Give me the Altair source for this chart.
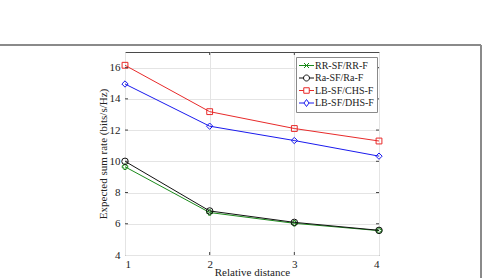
import altair as alt
import pandas as pd

# Relative distance on the x axis
distance = [1, 2, 3, 4]

# Expected sum rate (bits/s/Hz) for each scheme
series_names = ["RR-SF/RR-F", "Ra-SF/Ra-F", "LB-SF/CHS-F", "LB-SF/DHS-F"]
rr_sf = [9.65, 6.72, 6.03, 5.56]
ra_sf = [10.0, 6.82, 6.09, 5.58]
lb_chs = [16.15, 13.18, 12.1, 11.3]
lb_dhs = [14.95, 12.25, 11.33, 10.33]

colors = ["#1a8a1a", "#111111", "#e82a2a", "#1a1aee"]
markers = ["cross", "circle", "square", "diamond"]
marker_sizes = [30, 42, 34, 40]

x_ticks = [1, 2, 3, 4]
y_ticks = [4, 6, 8, 10, 12, 14, 16]

# Legend glyphs: a short line segment with the series marker on top
legend_glyphs = [
    "M-1.5,0H1.5M-0.5,-0.5L0.5,0.5M-0.5,0.5L0.5,-0.5",
    "M-1.5,0H-0.6M0.6,0H1.5M-0.6,0A0.6,0.6 0 1,0 0.6,0A0.6,0.6 0 1,0 -0.6,0",
    "M-1.5,0H-0.55M0.55,0H1.5M-0.55,-0.55H0.55V0.55H-0.55Z",
    "M-1.5,0H-0.5M0.5,0H1.5M-0.5,0L0,-0.7L0.5,0L0,0.7Z",
]

rows = []
for name, vals in zip(series_names, [rr_sf, ra_sf, lb_chs, lb_dhs]):
    for d, v in zip(distance, vals):
        rows.append({"distance": d, "rate": v, "series": name})
df = pd.DataFrame(rows)

FONT = "Liberation Serif"
W, H = 254, 203

x_scale = alt.Scale(domain=[1, 4], nice=False, zero=False)
y_scale = alt.Scale(domain=[4, 17], nice=False, zero=False)
x_axis = alt.Axis(values=x_ticks, format="d", title="Relative distance",
                  titleY=17, titleBaseline="middle")
y_axis = alt.Axis(values=y_ticks, title="Expected sum rate (bits/s/Hz)",
                  titleX=-22, titleBaseline="middle")

x_enc = alt.X("distance:Q", scale=x_scale, axis=x_axis)
y_enc = alt.Y("rate:Q", scale=y_scale, axis=y_axis)

base = alt.Chart(df)

# Legend carrier: no rows survive the filter, but the explicit scale domains
# keep all four entries in the legend.
legend_layer = (
    base.transform_filter("false")
    .mark_point(filled=False, strokeWidth=1, opacity=1)
    .encode(
        x=x_enc, y=y_enc,
        color=alt.Color("series:N", scale=alt.Scale(domain=series_names, range=colors), title=None),
        shape=alt.Shape("series:N", scale=alt.Scale(domain=series_names, range=legend_glyphs), title=None),
    )
)

series_layers = []
for name, col, shape, size in zip(series_names, colors, markers, marker_sizes):
    sub = base.transform_filter(alt.datum.series == name)
    series_layers.append(
        sub.mark_line(strokeWidth=1, color=col).encode(x=x_enc, y=y_enc)
    )
    series_layers.append(
        sub.mark_point(filled=False, shape=shape, size=size, strokeWidth=1,
                       opacity=1, color=col).encode(x=x_enc, y=y_enc)
    )

# Inward tick marks on all four sides of the plot box
tick_x = pd.DataFrame({"distance": x_ticks[1:-1]})
tick_y = pd.DataFrame({"rate": y_ticks[1:]})
tick_style = dict(color="#444444", strokeWidth=1)
ticks = alt.layer(
    alt.Chart(tick_x).mark_rule(**tick_style).encode(x=x_enc, y=alt.value(H), y2=alt.value(H - 3)),
    alt.Chart(tick_x).mark_rule(**tick_style).encode(x=x_enc, y=alt.value(0), y2=alt.value(3)),
    alt.Chart(tick_y).mark_rule(**tick_style).encode(y=y_enc, x=alt.value(0), x2=alt.value(3)),
    alt.Chart(tick_y).mark_rule(**tick_style).encode(y=y_enc, x=alt.value(W), x2=alt.value(W - 3)),
)

# Outer figure frame (top and right edges)
frame_style = dict(color="#8a8a8a", strokeWidth=1.2)
frame = alt.layer(
    alt.Chart(df).mark_rule(**frame_style).encode(
        x=alt.value(-125), x2=alt.value(356), y=alt.value(-7)),
    alt.Chart(df).mark_rule(**frame_style).encode(
        x=alt.value(356), y=alt.value(-7), y2=alt.value(H + 30)),
)

chart = (
    alt.layer(legend_layer, frame, *series_layers, ticks)
    .properties(
        width=W, height=H,
        autosize=alt.AutoSizeParams(type="none"),
        padding={"left": 125, "top": 52, "right": 105, "bottom": 23},
    )
    .configure_view(stroke="#4a4a4a", strokeWidth=1)
    .configure_axis(
        grid=True, gridColor="#e4e4e4", gridWidth=1,
        domain=False, ticks=False, labelOverlap=False, labelBound=False,
        labelFont=FONT, labelFontSize=11, labelColor="#222222",
        titleFont=FONT, titleFontSize=11, titleFontWeight="normal", titleColor="#222222",
    )
    .configure_axisX(labelPadding=3)
    .configure_axisY(labelPadding=5)
    .configure_legend(
        orient="none", legendX=171, legendY=5,
        strokeColor="#8a8a8a", fillColor="white", padding=3,
        labelFont=FONT, labelFontSize=10, labelColor="#222222",
        symbolSize=100, symbolStrokeWidth=1, symbolFillColor="transparent",
        rowPadding=1.5, labelOffset=3, symbolOffset=2,
    )
)

chart.save("out.html", embed_options={"renderer": "svg", "actions": False})
